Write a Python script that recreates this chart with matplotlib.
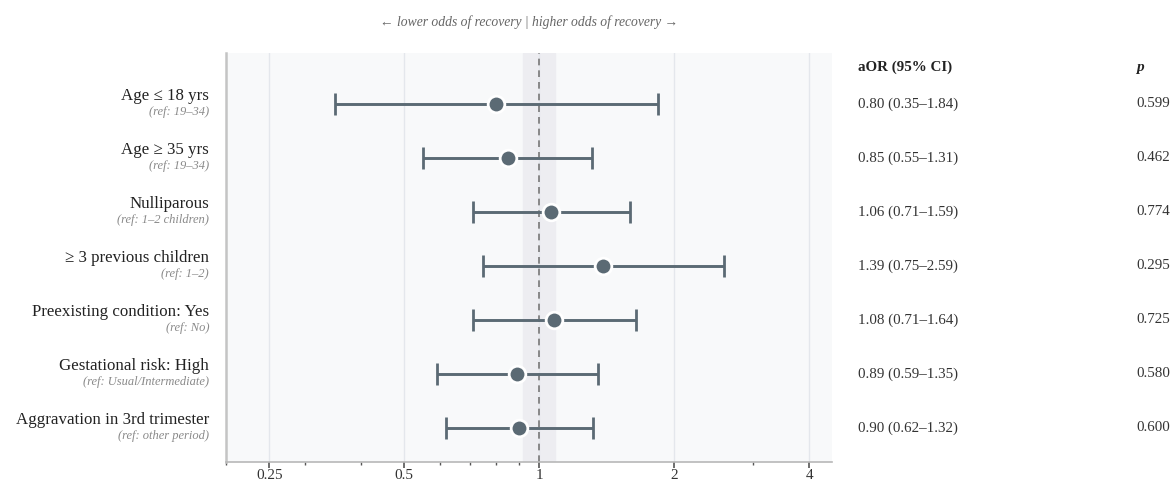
import numpy as np
import matplotlib
matplotlib.use("Agg")
import matplotlib.pyplot as plt
from matplotlib.transforms import blended_transform_factory
from matplotlib.ticker import FixedLocator, NullFormatter

# Data
labels = ["Age \u2264 18 yrs", "Age \u2265 35 yrs", "Nulliparous", "\u2265 3 previous children",
          "Preexisting condition: Yes", "Gestational risk: High", "Aggravation in 3rd trimester"]
refs = ["(ref: 19\u201334)", "(ref: 19\u201334)", "(ref: 1\u20132 children)", "(ref: 1\u20132)",
        "(ref: No)", "(ref: Usual/Intermediate)", "(ref: other period)"]
aor = [0.80, 0.85, 1.06, 1.39, 1.08, 0.89, 0.90]
lo = [0.35, 0.55, 0.71, 0.75, 0.71, 0.59, 0.62]
hi = [1.84, 1.31, 1.59, 2.59, 1.64, 1.35, 1.32]
pvals = ["0.599", "0.462", "0.774", "0.295", "0.725", "0.580", "0.600"]

major_ticks = [0.25, 0.5, 1, 2, 4]
minor_ticks = [0.2, 0.3, 0.4, 0.6, 0.7, 0.8, 0.9, 3]

serif = ["Liberation Serif", "DejaVu Serif"]
plt.rcParams["font.family"] = serif

col = "#5b6a74"

fig = plt.figure(figsize=(11.71, 4.83), dpi=100)
ax = fig.add_axes([0.193, 0.0435, 0.5175, 0.8468])
ax.set_facecolor("#f8f9fa")

y = np.arange(len(labels))
aor_a = np.array(aor)
err = [aor_a - np.array(lo), np.array(hi) - aor_a]

ax.set_xscale("log", base=2)
ax.set_xlim(0.2, 4.5)
ax.set_ylim(6.63, -0.94)

# null band and reference line
ax.axvspan(0.92, 1 / 0.92, color="#ededf1", zorder=0)
for t in major_ticks:
    ax.axvline(t, color="#e4e7ec", lw=1.0, zorder=0.5)
ax.axvline(1, color="#777777", lw=1.2, ls=(0, (4, 3)), zorder=1)

ax.errorbar(aor, y, xerr=err, fmt="o", color=col, ms=12, mfc=col, mec="white", mew=2,
            ecolor=col, elinewidth=2.1, capsize=8, capthick=2.0, zorder=3)

ax.xaxis.set_major_locator(FixedLocator(major_ticks))
ax.set_xticklabels([str(t) for t in major_ticks], fontsize=11, color="#333333")
ax.xaxis.set_minor_locator(FixedLocator(minor_ticks))
ax.xaxis.set_minor_formatter(NullFormatter())
ax.tick_params(axis="x", which="major", length=4, width=1.2, color="#555555", pad=1)
ax.tick_params(axis="x", which="minor", length=2.5, width=1, color="#555555")
ax.set_yticks([])

for s in ["top", "right"]:
    ax.spines[s].set_visible(False)
ax.spines["left"].set_color("#c4c4c4")
ax.spines["left"].set_linewidth(1.8)
ax.spines["bottom"].set_color("#b8b8b8")
ax.spines["bottom"].set_linewidth(1.2)

tr = blended_transform_factory(fig.transFigure, ax.transData)
lx = 209 / 1171
for yi, lab, ref in zip(y, labels, refs):
    ax.text(lx, yi - 0.15, lab, transform=tr, ha="right", va="center", fontsize=12.2,
            color="#222222", clip_on=False)
    ax.text(lx, yi + 0.15, ref, transform=tr, ha="right", va="center", fontsize=9,
            style="italic", color="#8a8a8a", clip_on=False)

cx = 858 / 1171
px = 1136 / 1171
ax.text(cx, -0.68, "aOR (95% CI)", transform=tr, ha="left", va="center", fontsize=10.8,
        fontweight="bold", color="#222222", clip_on=False)
ax.text(px, -0.68, "p", transform=tr, ha="left", va="center", fontsize=11,
        fontweight="bold", style="italic", color="#222222", clip_on=False)
for yi, a, l, h, p in zip(y, aor, lo, hi, pvals):
    ax.text(cx, yi, f"{a:.2f} ({l:.2f}\u2013{h:.2f})", transform=tr, ha="left", va="center",
            fontsize=10.8, color="#333333", clip_on=False)
    ax.text(px, yi, p, transform=tr, ha="left", va="center", fontsize=10.8,
            color="#333333", clip_on=False)

fig.text(529 / 1171, 1 - 22 / 483,
         "\u2190 lower odds of recovery | higher odds of recovery \u2192",
         ha="center", va="center", fontsize=9.8, style="italic", color="#666666")

fig.savefig("out.png", dpi=100)
